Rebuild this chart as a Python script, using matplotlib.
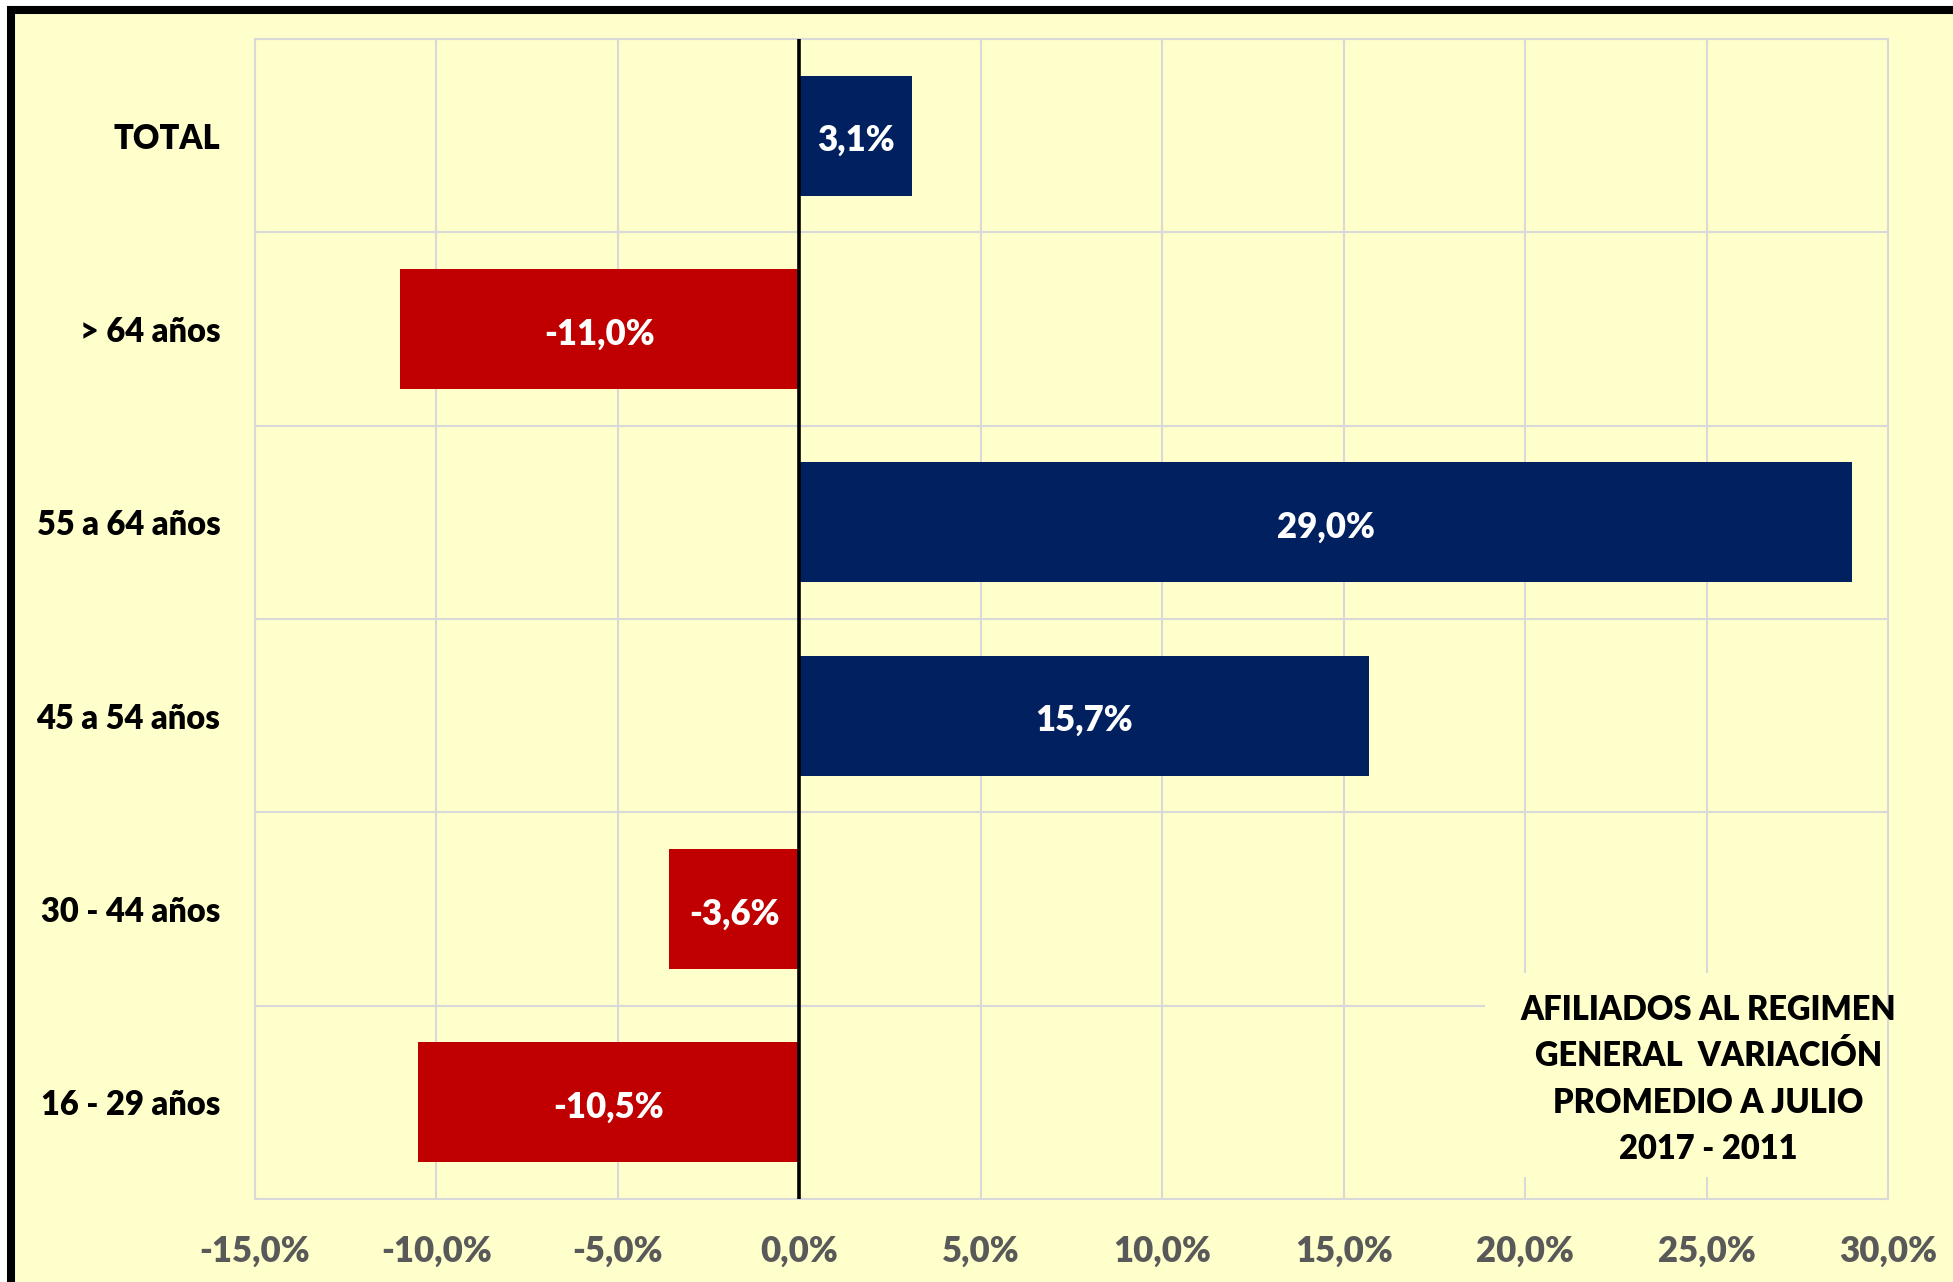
# Afiliados al regimen general - variacion promedio a julio 2017-2011

import matplotlib.pyplot as plt
from matplotlib.patches import Rectangle
import numpy as np

# Data (top to bottom)
categories = ['TOTAL', '> 64 años', '55 a 64 años', '45 a 54 años', '30 - 44 años', '16 - 29 años']
variation = [3.1, -11.0, 29.0, 15.7, -3.6, -10.5]
x_ticks = [-15, -10, -5, 0, 5, 10, 15, 20, 25, 30]
note = 'AFILIADOS AL REGIMEN\nGENERAL  VARIACIÓN\nPROMEDIO A JULIO\n2017 - 2011'

bg = '#FFFFCC'
navy = '#002060'
red = '#C00000'
grid = '#D9D9D9'

plt.rcParams['font.family'] = ['Lato', 'DejaVu Sans']

fig = plt.figure(figsize=(19.53, 12.82), dpi=100, facecolor='white')

# yellow panel with thick black border on top / left
W, H = 1953, 1282
fig.patches.append(Rectangle((11 / W, -0.05), 1.1, (H - 10) / H + 0.05,
                             transform=fig.transFigure, facecolor=bg,
                             edgecolor='black', linewidth=5.8, zorder=-10))

ax = fig.add_axes([255 / W, 1 - 1199 / H, (1888 - 255) / W, (1199 - 39) / H])
ax.set_facecolor(bg)

y = np.arange(len(categories))
colors = [navy if v >= 0 else red for v in variation]
ax.barh(y, variation, height=0.62, color=colors, zorder=3)

# value labels in the middle of each bar
for yi, v in zip(y, variation):
    ax.text(v / 2, yi + 0.025, f'{v:.1f}%'.replace('.', ','), ha='center', va='center',
            color='white', fontsize=25, fontweight='heavy', zorder=4)

ax.set_xlim(-15, 30)
ax.set_ylim(len(categories) - 0.5, -0.5)

# grid: vertical at ticks, horizontal between categories
ax.set_xticks(x_ticks)
ax.set_xticklabels([f'{t:.1f}%'.replace('.', ',') for t in x_ticks])
for t in x_ticks:
    ax.axvline(t, color=grid, lw=1.5, zorder=1)
for b in np.arange(-0.5, len(categories), 1.0):
    ax.axhline(b, color=grid, lw=1.5, zorder=1)
ax.axvline(0, color='black', lw=2.6, zorder=5)

ax.set_yticks(y)
ax.set_yticklabels(categories)
ax.tick_params(axis='y', length=0, pad=25, labelsize=23.5, labelcolor='black')
ax.tick_params(axis='x', length=0, pad=26, labelsize=25, labelcolor='#595959')
for lbl in ax.get_xticklabels() + ax.get_yticklabels():
    lbl.set_fontweight('heavy')
for s in ax.spines.values():
    s.set_color(grid)
    s.set_linewidth(1.5)

# note box covering the grid
ax.add_patch(Rectangle((0.7532, 0.019), 0.3, 0.176, transform=ax.transAxes,
                       facecolor=bg, edgecolor='none', zorder=2, clip_on=False))
ax.text(0.89, 0.103, note, transform=ax.transAxes, ha='center', va='center',
        fontsize=23.5, fontweight='heavy', color='black', linespacing=1.55, zorder=6)

fig.savefig('out.png', dpi=100, facecolor=fig.get_facecolor())
